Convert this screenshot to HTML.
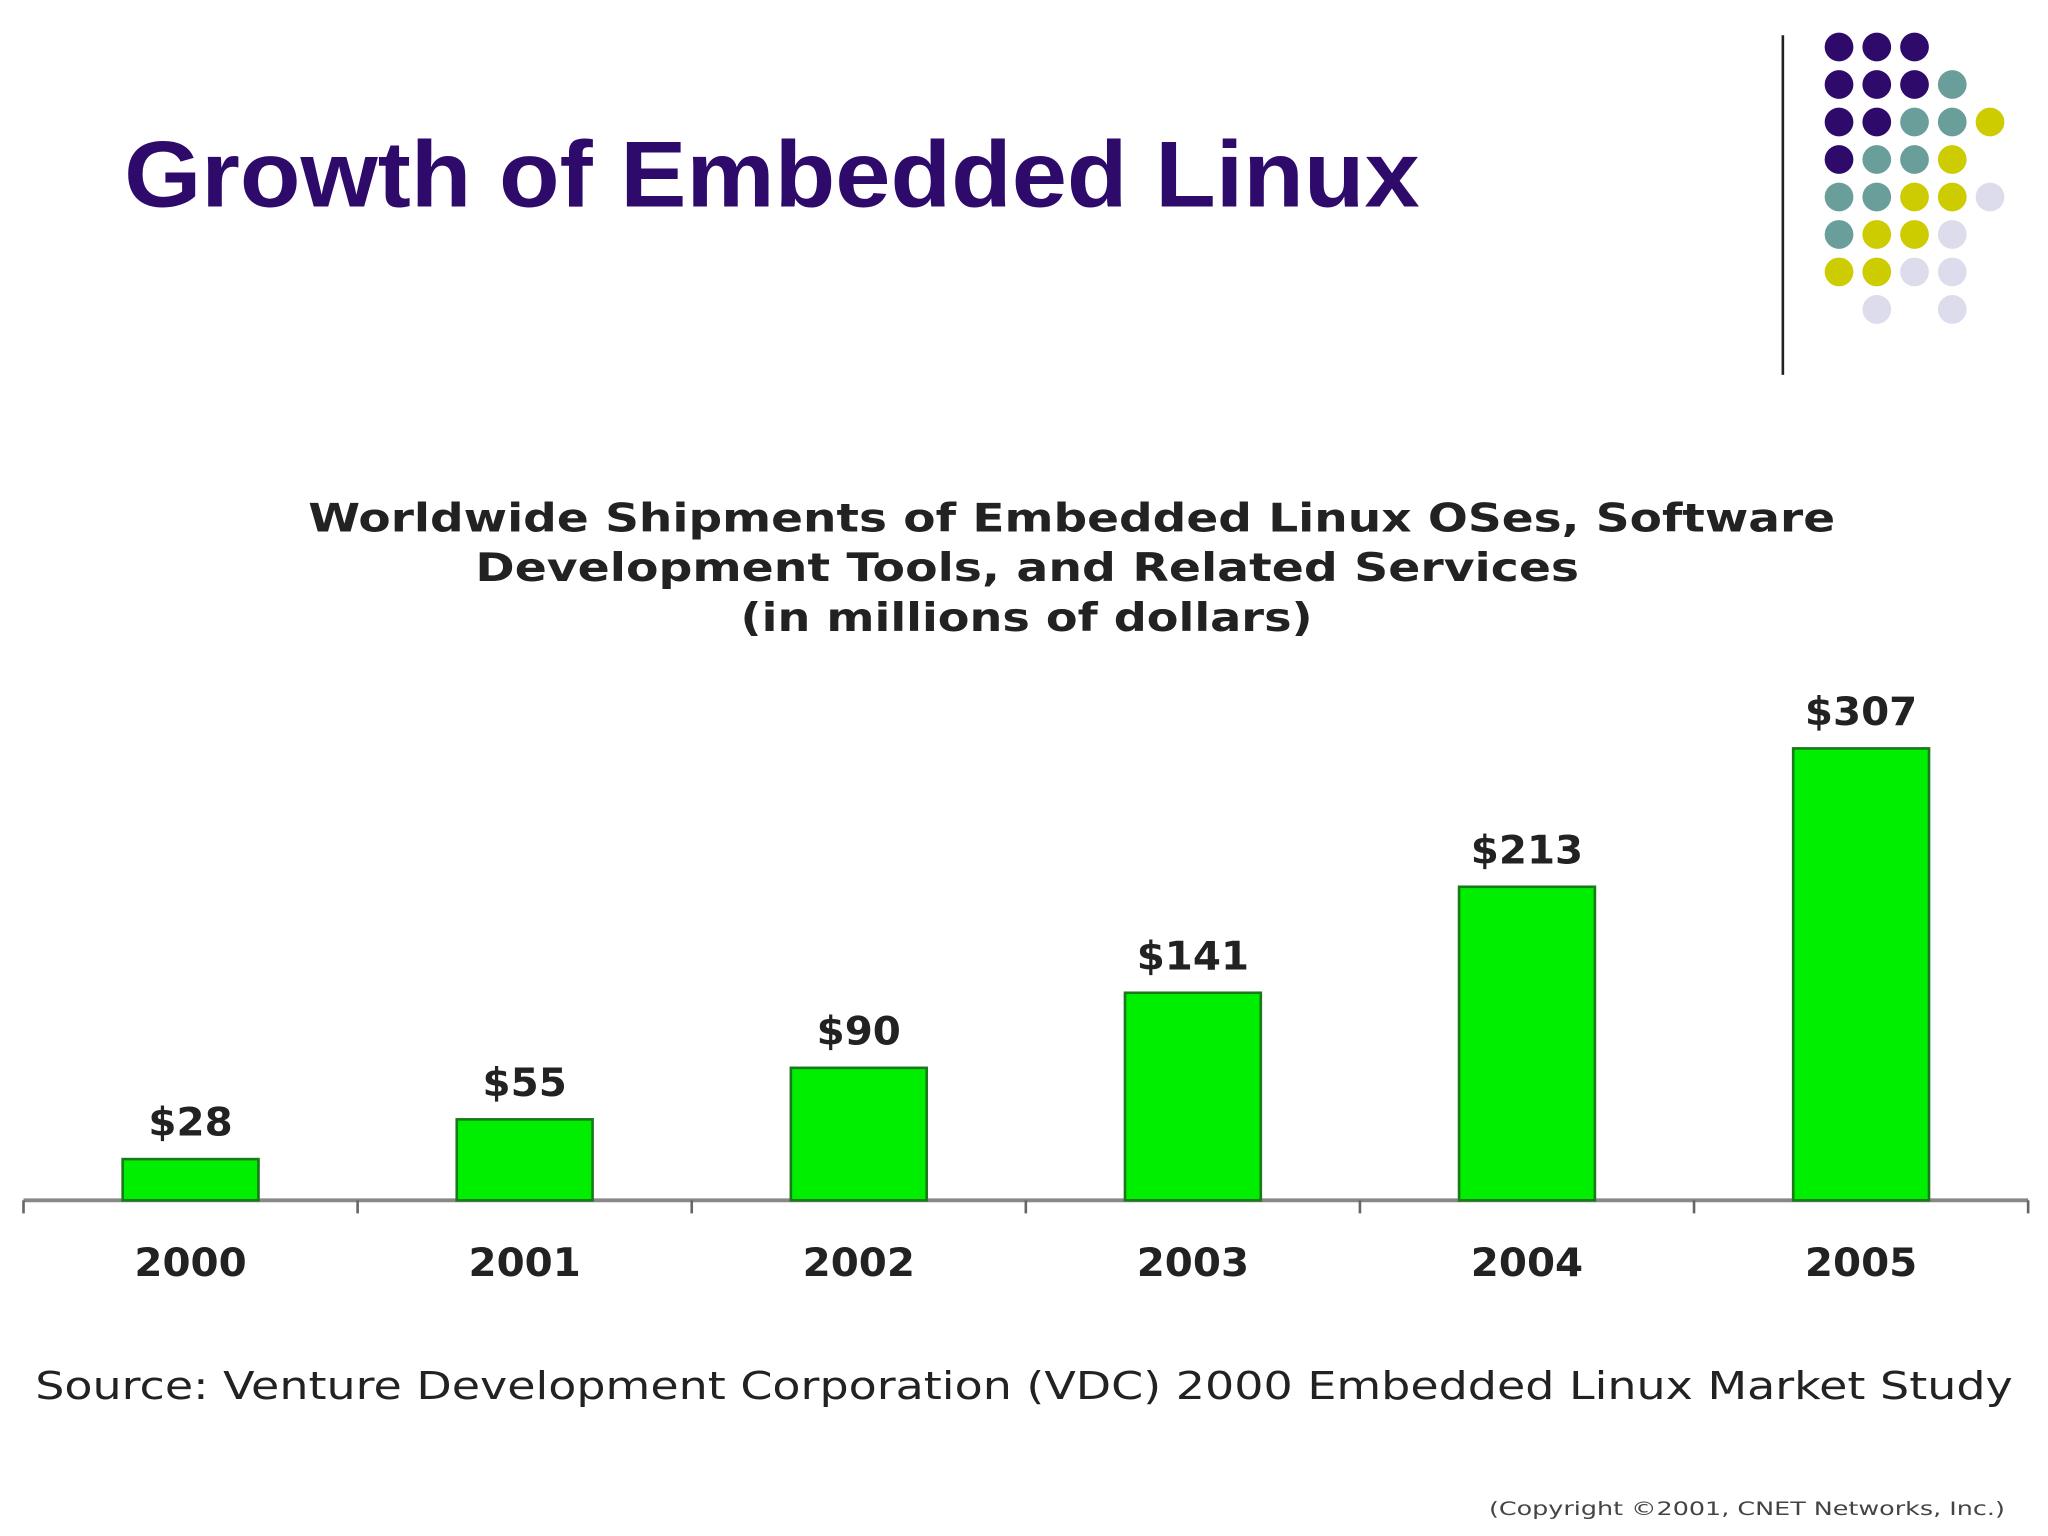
<!DOCTYPE html>
<html><head><meta charset="utf-8"><style>
html,body{margin:0;padding:0;background:#fff}
svg{display:block}
</style></head><body>
<svg width="2048" height="1536" viewBox="0 0 1568 1176" xmlns="http://www.w3.org/2000/svg">
<rect width="1568" height="1176" fill="#fff"/>
<text x="95" y="158" font-family="Liberation Sans, sans-serif" font-weight="bold" font-size="72" fill="#2e0a6b" textLength="992" lengthAdjust="spacingAndGlyphs">Growth of Embedded Linux</text>
<line x1="1365" y1="27" x2="1365" y2="287" stroke="#222" stroke-width="2"/>
<g id="dots"></g>
<g font-family="DejaVu Sans, sans-serif" font-weight="bold" font-size="30" fill="#222">
<text x="236" y="407" textLength="1169" lengthAdjust="spacingAndGlyphs">Worldwide Shipments of Embedded Linux OSes, Software</text>
<text x="364" y="445" textLength="845" lengthAdjust="spacingAndGlyphs">Development Tools, and Related Services</text>
<text x="567" y="483" textLength="438" lengthAdjust="spacingAndGlyphs">(in millions of dollars)</text>
</g>
<g id="chart"></g>
<text x="27" y="1071" font-family="DejaVu Sans, sans-serif" font-size="29" fill="#222" textLength="1514" lengthAdjust="spacingAndGlyphs">Source:  Venture Development Corporation (VDC) 2000 Embedded Linux Market Study</text>
<text x="1140" y="1160" font-family="DejaVu Sans, sans-serif" font-size="14" fill="#444" textLength="395" lengthAdjust="spacingAndGlyphs">(Copyright ©2001, CNET Networks, Inc.)</text>
</svg>
<script>
const categories = ["2000","2001","2002","2003","2004","2005"];
const values = [28,55,90,141,213,307];
const valueLabels = ["$28","$55","$90","$141","$213","$307"];
const NS="http://www.w3.org/2000/svg";
const axisY=919, x0=18, step=255.8, barW=104, pxPerUnit=346/307;
function xCenter(i){return x0+step*(i+0.5);}
function yVal(v){return axisY-v*pxPerUnit;}
const chart=document.getElementById('chart');
function mk(tag,attrs,parent){const e=document.createElementNS(NS,tag);for(const k in attrs)e.setAttribute(k,attrs[k]);parent.appendChild(e);return e;}
const ax=mk('line',{x1:x0,y1:axisY,x2:x0+step*6,y2:axisY,stroke:'#888','stroke-width':3},chart);


for(let i=0;i<=6;i++){
  const t=mk('line',{x1:x0+step*i,y1:axisY,x2:x0+step*i,y2:axisY+10,stroke:'#666','stroke-width':2},chart);
  
  
}
categories.forEach((c,i)=>{
  const cx=xCenter(i), top=yVal(values[i]);
  const b=mk('rect',{x:cx-barW/2,y:top,width:barW,height:axisY-top,fill:'#00ee00',stroke:'#1a7a1a','stroke-width':2},chart);
  
  
  const lbl=valueLabels[i];
  const l=mk('text',{x:cx,y:top-18,'text-anchor':'middle','font-family':'DejaVu Sans, sans-serif','font-weight':'bold','font-size':30,fill:'#222',textLength:lbl.length*21.5,lengthAdjust:'spacingAndGlyphs'},chart);
  l.textContent=lbl;
  
  
  const y=mk('text',{x:cx,y:977,'text-anchor':'middle','font-family':'DejaVu Sans, sans-serif','font-weight':'bold','font-size':30,fill:'#222',textLength:86,lengthAdjust:'spacingAndGlyphs'},chart);
  y.textContent=c;
  
  
});
const P='#2e0a6b',T='#6a9e9a',Y='#cccc00',L='#dcdcec';
const grid=[[P,P,P,null,null],[P,P,P,T,null],[P,P,T,T,Y],[P,T,T,Y,null],[T,T,Y,Y,L],[T,Y,Y,L,null],[Y,Y,L,L,null],[null,L,null,L,null]];
const dots=document.getElementById('dots');
grid.forEach((row,r)=>row.forEach((col,c)=>{
  if(!col)return;
  const d=mk('circle',{cx:1408+c*28.9,cy:36+r*28.7,r:11,fill:col},dots);
  
  
}));
</script>
</body></html>
